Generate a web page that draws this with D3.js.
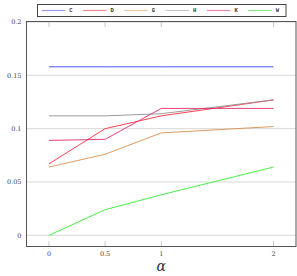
<!DOCTYPE html>
<html>
<head>
<meta charset="utf-8">
<script src="https://cdn.jsdelivr.net/npm/d3@7"></script>
<style>
  body { margin: 0; background: #fff; }
  svg { display: block; }
</style>
</head>
<body>
<div id="chart"></div>
<script>
// data
const alphas = [0, 0.5, 1, 2];
const seriesNames = ['C', 'D', 'G', 'H', 'K', 'W'];
const valsC = [0.158, 0.158, 0.158, 0.158];
const valsD = [0.067, 0.100, 0.112, 0.127];
const valsG = [0.064, 0.076, 0.096, 0.102];
const valsH = [0.112, 0.112, 0.114, 0.127];
const valsK = [0.089, 0.090, 0.119, 0.119];
const valsW = [0.000, 0.024, 0.038, 0.064];
const xTicks = [0, 0.5, 1, 2];
const yTicks = [0, 0.05, 0.1, 0.15, 0.2];

const colors = {
    C: '#4040f0', D: '#ff3040', G: '#d89050', H: '#909090', K: '#e0306a', W: '#33ee33'
};
const legendColors = {
    C: '#9a9af8', D: '#f88888', G: '#ecc8a4', H: '#c8c8c8', K: '#ee88a8', W: '#88f088'
};

const series = [
    { name: 'C', values: valsC },
    { name: 'D', values: valsD },
    { name: 'G', values: valsG },
    { name: 'H', values: valsH },
    { name: 'K', values: valsK },
    { name: 'W', values: valsW }
];

const width = 297, height = 276;
const plot = { left: 26.5, right: 296, top: 21.5, bottom: 246.5 };

const svg = d3.select('#chart').append('svg')
    .attr('width', width)
    .attr('height', height);

const x = d3.scaleLinear().domain([-0.2, 2.2]).range([plot.left, plot.right]);
const y = d3.scaleLinear().domain([-0.0105, 0.2005]).range([plot.bottom, plot.top]);

// horizontal grid
svg.append('g')
    .selectAll('line')
    .data(yTicks)
    .join('line')
    .attr('x1', plot.left).attr('x2', plot.right)
    .attr('y1', d => y(d)).attr('y2', d => y(d))
    .attr('stroke', '#d8d8d8')
    .attr('stroke-width', 1);

// short x ticks top and bottom
const tickLen = 5.5;
svg.append('g')
    .selectAll('line')
    .data(xTicks)
    .join('line')
    .attr('x1', d => x(d)).attr('x2', d => x(d))
    .attr('y1', plot.bottom).attr('y2', plot.bottom - tickLen)
    .attr('stroke', '#c8c8c8');
svg.append('g')
    .selectAll('line')
    .data(xTicks)
    .join('line')
    .attr('x1', d => x(d)).attr('x2', d => x(d))
    .attr('y1', plot.top).attr('y2', plot.top + tickLen)
    .attr('stroke', '#c8c8c8');

// series lines
const line = d3.line()
    .x((d, i) => x(alphas[i]))
    .y(d => y(d));

svg.append('g')
    .selectAll('path')
    .data(series)
    .join('path')
    .attr('d', d => line(d.values))
    .attr('fill', 'none')
    .attr('stroke', d => colors[d.name])
    .attr('stroke-width', 1)
    .attr('stroke-opacity', 0.9);

// frame
svg.append('rect')
    .attr('x', plot.left).attr('y', plot.top)
    .attr('width', plot.right - plot.left)
    .attr('height', plot.bottom - plot.top)
    .attr('fill', 'none')
    .attr('stroke', '#555')
    .attr('stroke-width', 1);

// tick labels
svg.append('g')
    .selectAll('text')
    .data(yTicks)
    .join('text')
    .attr('x', 21.5)
    .attr('y', d => y(d))
    .attr('dy', '0.35em')
    .attr('text-anchor', 'end')
    .attr('font-family', 'DejaVu Serif, serif')
    .attr('font-size', 6.5)
    .attr('fill', '#444')
    .text(d => d);

svg.append('g')
    .selectAll('text')
    .data(xTicks)
    .join('text')
    .attr('x', d => x(d))
    .attr('y', 254)
    .attr('dy', '0.35em')
    .attr('text-anchor', 'middle')
    .attr('font-family', 'DejaVu Serif, serif')
    .attr('font-size', 6.5)
    .attr('fill', '#444')
    .text(d => d);

// axis label
svg.append('text')
    .attr('x', x(1))
    .attr('y', 271)
    .attr('text-anchor', 'middle')
    .attr('font-family', 'DejaVu Serif, serif')
    .attr('font-style', 'italic')
    .attr('font-size', 14)
    .attr('fill', '#333')
    .text('α');

// legend
const legend = svg.append('g');
legend.append('rect')
    .attr('x', 37.5).attr('y', 4.5)
    .attr('width', 248.5).attr('height', 12)
    .attr('fill', '#fff')
    .attr('stroke', '#444')
    .attr('stroke-width', 1);

const item = legend.selectAll('g')
    .data(seriesNames)
    .join('g')
    .attr('transform', (d, i) => `translate(${41.7 + i * 41.3}, 10.5)`);

item.append('line')
    .attr('x1', 0).attr('x2', 23.5)
    .attr('stroke', d => legendColors[d])
    .attr('stroke-width', 1.2);

item.append('text')
    .attr('x', 27.5)
    .attr('dy', '0.35em')
    .attr('font-family', 'Liberation Mono, monospace')
    .attr('font-size', 5.5)
    .attr('font-weight', 'bold')
    .attr('fill', '#333')
    .text(d => d);
</script>
</body>
</html>
